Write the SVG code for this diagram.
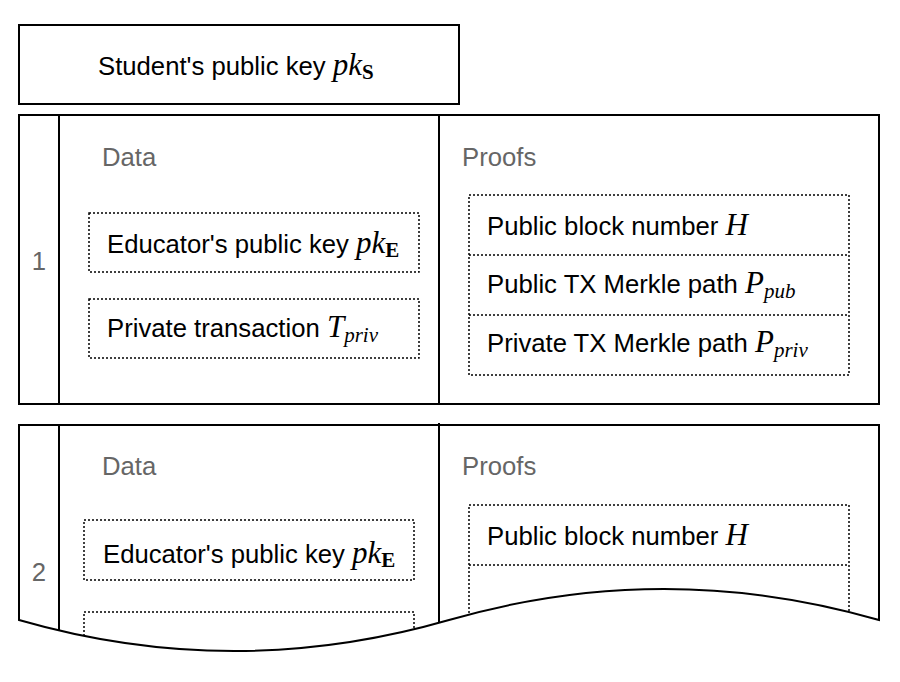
<svg xmlns="http://www.w3.org/2000/svg" width="900" height="682" viewBox="0 0 900 682">
<style>
.box{fill:none;stroke:#000;stroke-width:2}
.ln{stroke:#000;stroke-width:2;fill:none}
.dot{fill:none;stroke:#000;stroke-width:1.5;stroke-dasharray:2 2}
.t{font-family:"Liberation Sans",Arial,sans-serif;font-size:25.7px;fill:#000}
.g{font-family:"Liberation Sans",Arial,sans-serif;font-size:25.7px;fill:#666}
.m{font-family:"Liberation Serif","Times New Roman",serif;font-style:italic;font-size:31px}
.sb{font-family:"Liberation Serif","Times New Roman",serif;font-weight:bold;font-style:normal;font-size:21px}
.si{font-family:"Liberation Serif","Times New Roman",serif;font-style:italic;font-size:21px}
</style>
<defs>
<clipPath id="wave"><path d="M19,425 H879 V620 Q664,558 449,620 T19,620 Z"/></clipPath>
</defs>
<rect width="900" height="682" fill="#fff"/>
<g id="student-key">
<rect class="box" x="19" y="25" width="440" height="79"/>
<text class="t" x="98" y="75">Student's public key <tspan class="m">pk</tspan><tspan class="sb" dy="4">S</tspan></text>
</g>
<g id="block1">
<rect class="box" x="19" y="115" width="860" height="289"/>
<line class="ln" x1="59" y1="115" x2="59" y2="404"/>
<line class="ln" x1="439" y1="115" x2="439" y2="404"/>
<text class="g" x="39" y="270" text-anchor="middle">1</text>
<text class="g" x="102" y="166">Data</text>
<text class="g" x="462" y="166">Proofs</text>
<g id="b1-edu">
<rect class="dot" x="89" y="213" width="330" height="59"/>
<text class="t" x="107" y="253">Educator's public key <tspan class="m">pk</tspan><tspan class="sb" dy="4">E</tspan></text>
</g>
<g id="b1-tx">
<rect class="dot" x="89" y="299" width="330" height="59"/>
<text class="t" x="107" y="337">Private transaction <tspan class="m">T</tspan><tspan class="si" dy="5">priv</tspan></text>
</g>
<g id="b1-proofs">
<rect class="dot" x="469" y="195" width="380" height="180"/>
<line class="dot" x1="469" y1="255" x2="849" y2="255"/>
<line class="dot" x1="469" y1="315" x2="849" y2="315"/>
<text class="t" x="487" y="235">Public block number <tspan class="m">H</tspan></text>
<text class="t" x="487" y="293">Public TX Merkle path <tspan class="m">P</tspan><tspan class="si" dy="5">pub</tspan></text>
<text class="t" x="487" y="352">Private TX Merkle path <tspan class="m">P</tspan><tspan class="si" dy="5">priv</tspan></text>
</g>
</g>
<g id="block2">
<g clip-path="url(#wave)">
<line class="ln" x1="59" y1="425" x2="59" y2="660"/>
<line class="ln" x1="439" y1="423" x2="439" y2="660"/>
<rect class="dot" x="84" y="520" width="330" height="60"/>
<rect class="dot" x="84" y="612" width="330" height="60"/>
<rect class="dot" x="469" y="505" width="380" height="180"/>
<line class="dot" x1="469" y1="565" x2="849" y2="565"/>
</g>
<line class="ln" x1="439" y1="423" x2="439" y2="426"/>
<path class="box" d="M19,425 H879 V620 Q664,558 449,620 T19,620 Z"/>
<text class="g" x="39" y="581" text-anchor="middle">2</text>
<text class="g" x="102" y="475">Data</text>
<text class="g" x="462" y="475">Proofs</text>
<text class="t" x="103" y="563">Educator's public key <tspan class="m">pk</tspan><tspan class="sb" dy="4">E</tspan></text>
<text class="t" x="487" y="545">Public block number <tspan class="m">H</tspan></text>
</g>
</svg>
